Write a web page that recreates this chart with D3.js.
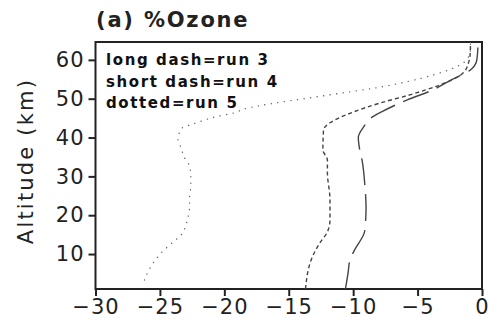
<!DOCTYPE html>
<html>
<head>
<meta charset="utf-8">
<script src="https://cdn.jsdelivr.net/npm/d3@7"></script>
<style>
  body { margin: 0; background: #fff; }
  svg { display: block; }
</style>
</head>
<body>
<svg width="488" height="329"></svg>
<script>
// data: altitude (km) and % ozone change per run
var run3Alt = [1, 5, 8.5, 11, 16, 22, 28, 34, 37, 40, 42.7, 45.3, 46.6, 49.7, 52, 55, 57.4, 60, 64.6];
var run3Val = [-10.6, -10.4, -10.25, -9.9, -9.1, -9.0, -9.1, -9.3, -9.5, -9.6, -9.2, -8.5, -7.8, -5.8, -4.0, -2.3, -0.9, -0.4, -0.3];

var run4Alt = [1, 9, 12.8, 15.7, 18.8, 24, 31, 34.2, 36.8, 42, 43.8, 46.3, 48.9, 51, 53.5, 56, 58.7, 62.6, 64.6];
var run4Val = [-13.7, -13.2, -12.6, -12.0, -11.8, -11.8, -12.0, -12.0, -12.35, -12.3, -11.8, -10.2, -7.9, -5.6, -3.3, -1.7, -1.1, -0.9, -0.9];

var run5Alt = [3.3, 5.6, 7.8, 9.9, 11.6, 13.3, 15.1, 17.3, 19.8, 22.4, 24.9, 27.5, 30.1, 32.7, 34.2, 37.7, 39.4, 42.4, 43.2, 44.1, 45.4, 46.3, 47.5, 48.8, 50.1, 51.4, 52.7, 54.4, 56.1, 57.9, 60, 62.6, 64.3];
var run5Val = [-26.2, -25.9, -25.5, -25.0, -24.5, -23.9, -23.3, -23.0, -22.8, -22.7, -22.7, -22.6, -22.6, -22.7, -23.0, -23.4, -23.6, -23.3, -22.7, -21.9, -20.6, -19.3, -18.3, -16.2, -13.6, -11.0, -8.4, -5.8, -3.8, -2.2, -1.2, -0.9, -0.9];

var xTicks = [-30, -25, -20, -15, -10, -5, 0];
var yTicks = [10, 20, 30, 40, 50, 60];
var legendLines = ["long dash=run 3", "short dash=run 4", "dotted=run 5"];

var pLeft = 95.5, pRight = 482, pTop = 42, pBottom = 289;
var font = "'DejaVu Sans', sans-serif";

var svg = d3.select("svg");

var x = d3.scaleLinear().domain([-30, 0]).range([pLeft, pRight]);
var y = d3.scaleLinear().domain([1, 64.6]).range([pBottom, pTop]);

svg.append("defs").append("clipPath")
    .attr("id", "plotclip")
    .append("rect")
    .attr("x", pLeft).attr("y", pTop)
    .attr("width", pRight - pLeft).attr("height", pBottom - pTop);

// axes
var xAxis = svg.append("g")
    .attr("transform", "translate(0," + pBottom + ")")
    .call(d3.axisBottom(x).tickValues(xTicks).tickSize(7).tickPadding(3)
        .tickFormat(function (d) { return d < 0 ? "\u2212" + Math.abs(d) : d; }));
var yAxis = svg.append("g")
    .attr("transform", "translate(" + pLeft + ",0)")
    .call(d3.axisLeft(y).tickValues(yTicks).tickSize(7).tickPadding(4));

[xAxis, yAxis].forEach(function (a) {
    a.select(".domain").remove();
    a.selectAll("line").attr("stroke", "#222").attr("stroke-width", 2);
    a.selectAll("text")
        .attr("fill", "#222")
        .style("font-family", font)
        .style("font-size", "21px")
        .style("letter-spacing", "1px");
});

// frame
svg.append("rect")
    .attr("x", pLeft).attr("y", pTop)
    .attr("width", pRight - pLeft).attr("height", pBottom - pTop)
    .attr("fill", "none")
    .attr("stroke", "#222")
    .attr("stroke-width", 2);

// curves
function makeData(alts, vals) {
    return alts.map(function (a, i) { return { alt: a, val: vals[i] }; });
}
var line = d3.line()
    .x(function (d) { return x(d.val); })
    .y(function (d) { return y(d.alt); })
    .curve(d3.curveMonotoneY);

var plot = svg.append("g").attr("clip-path", "url(#plotclip)");

plot.append("path")
    .datum(makeData(run3Alt, run3Val))
    .attr("d", line)
    .attr("fill", "none")
    .attr("stroke", "#444")
    .attr("stroke-width", 1.4)
    .attr("stroke-dasharray", "27,9");

plot.append("path")
    .datum(makeData(run4Alt, run4Val))
    .attr("d", line)
    .attr("fill", "none")
    .attr("stroke", "#444")
    .attr("stroke-width", 1.4)
    .attr("stroke-dasharray", "4,3");

plot.append("path")
    .datum(makeData(run5Alt, run5Val))
    .attr("d", line)
    .attr("fill", "none")
    .attr("stroke", "#666")
    .attr("stroke-width", 1.4)
    .attr("stroke-linecap", "round")
    .attr("stroke-dasharray", "0.1,6.5");

// legend
svg.selectAll(".legend")
    .data(legendLines)
    .enter().append("text")
    .attr("class", "legend")
    .attr("x", 106)
    .attr("y", function (d, i) { return 65 + i * 21.5; })
    .style("font-family", font)
    .style("font-weight", "bold")
    .style("font-size", "15px")
    .style("letter-spacing", "1.6px")
    .attr("fill", "#111")
    .text(function (d) { return d; });

// title
svg.append("text")
    .attr("x", 96)
    .attr("y", 27)
    .style("font-family", font)
    .style("font-weight", "bold")
    .style("font-size", "21px")
    .style("letter-spacing", "1.8px")
    .attr("fill", "#222")
    .text("(a) %Ozone");

// y axis label
svg.append("text")
    .attr("transform", "translate(33,161) rotate(-90)")
    .attr("text-anchor", "middle")
    .style("font-family", font)
    .style("font-size", "21px")
    .style("letter-spacing", "2.2px")
    .attr("fill", "#222")
    .text("Altitude (km)");
</script>
</body>
</html>
